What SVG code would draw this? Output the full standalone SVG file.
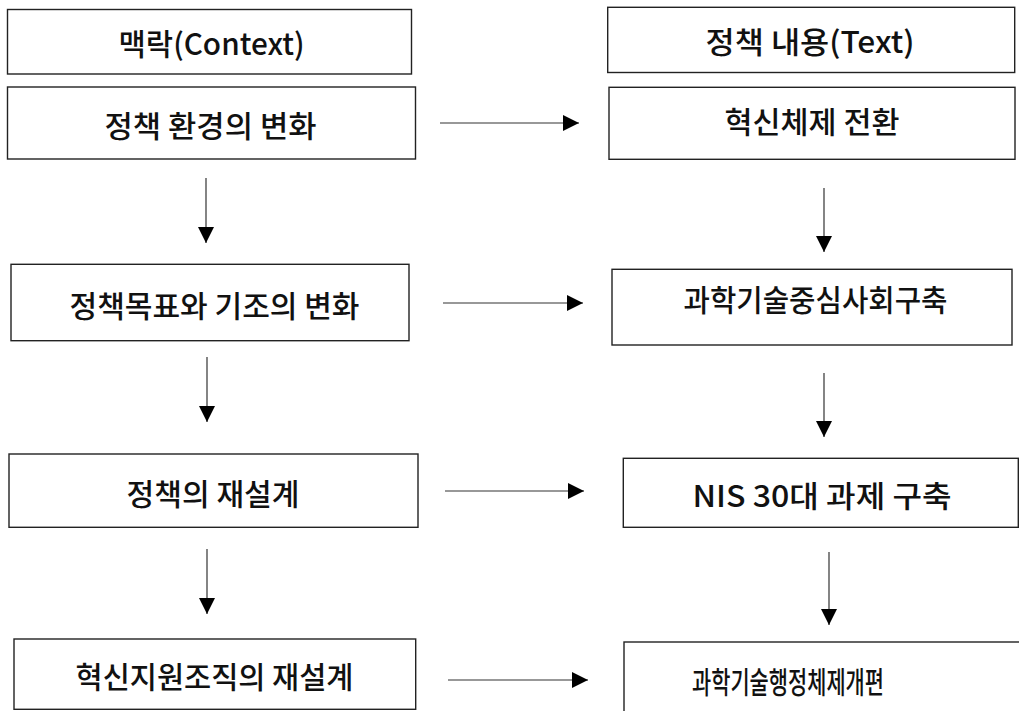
<svg xmlns="http://www.w3.org/2000/svg" width="1019" height="711" viewBox="0 0 1019 711">
<style>
.box{fill:#fff;stroke:#222;stroke-width:1.4}
.lbl{font-family:"Noto Sans CJK KR","Noto Sans",sans-serif;font-size:30px;font-weight:500;fill:#111;text-anchor:middle;dominant-baseline:central}
.con{stroke:#333;stroke-width:1.2;fill:none;marker-end:url(#ah)}
</style>
<defs>
<marker id="ah" markerUnits="userSpaceOnUse" markerWidth="16" markerHeight="16" refX="16" refY="8" orient="auto">
<path d="M0,0 L16,8 L0,16 Z" fill="#000"/>
</marker>
</defs>
<rect width="1019" height="711" fill="#fff"/>
<g id="n-context">
<rect class="box" x="7.5" y="9.5" width="404" height="64.5"/>
<text class="lbl" x="211.5" y="42" textLength="186" lengthAdjust="spacingAndGlyphs">맥락(Context)</text>
</g>
<g id="n-env">
<rect class="box" x="7.5" y="87" width="408" height="72"/>
<text class="lbl" x="210.5" y="123.5" textLength="212" lengthAdjust="spacingAndGlyphs">정책 환경의 변화</text>
</g>
<g id="n-goal">
<rect class="box" x="11" y="264.3" width="398" height="76.4"/>
<text class="lbl" x="214.5" y="304" textLength="290" lengthAdjust="spacingAndGlyphs">정책목표와 기조의 변화</text>
</g>
<g id="n-redesign">
<rect class="box" x="9" y="454" width="409" height="73.3"/>
<text class="lbl" x="213" y="492" textLength="173" lengthAdjust="spacingAndGlyphs">정책의 재설계</text>
</g>
<g id="n-org">
<rect class="box" x="14" y="639" width="401.7" height="70.3"/>
<text class="lbl" x="214.5" y="674.5" textLength="278" lengthAdjust="spacingAndGlyphs">혁신지원조직의 재설계</text>
</g>
<g id="n-text">
<rect class="box" x="607.7" y="7.3" width="407" height="65.2"/>
<text class="lbl" x="810" y="40" textLength="209" lengthAdjust="spacingAndGlyphs">정책 내용(Text)</text>
</g>
<g id="n-innov">
<rect class="box" x="609" y="87.3" width="406" height="72"/>
<text class="lbl" x="812" y="120" textLength="175" lengthAdjust="spacingAndGlyphs">혁신체제 전환</text>
</g>
<g id="n-society">
<rect class="box" x="612" y="269.3" width="400" height="75.7"/>
<text class="lbl" x="815.5" y="298" textLength="264" lengthAdjust="spacingAndGlyphs">과학기술중심사회구축</text>
</g>
<g id="n-nis">
<rect class="box" x="623.3" y="458.3" width="395" height="69"/>
<text class="lbl" x="822" y="493.5" textLength="259" lengthAdjust="spacingAndGlyphs">NIS 30대 과제 구축</text>
</g>
<g id="n-admin">
<rect class="box" x="624" y="642" width="410" height="90"/>
<text class="lbl" x="788" y="680" textLength="192" lengthAdjust="spacingAndGlyphs">과학기술행정체제개편</text>
</g>
<g id="connectors">
<line class="con" x1="440" y1="123" x2="579" y2="123"/>
<line class="con" x1="443" y1="303" x2="583" y2="303"/>
<line class="con" x1="445" y1="491" x2="584" y2="491"/>
<line class="con" x1="448" y1="680" x2="588" y2="680"/>
<line class="con" x1="206" y1="178" x2="206" y2="243"/>
<line class="con" x1="207" y1="357" x2="207" y2="422"/>
<line class="con" x1="207" y1="549" x2="207" y2="614"/>
<line class="con" x1="824" y1="188" x2="824" y2="252"/>
<line class="con" x1="824" y1="373" x2="824" y2="437"/>
<line class="con" x1="829" y1="552" x2="829" y2="625"/>
</g>
</svg>
